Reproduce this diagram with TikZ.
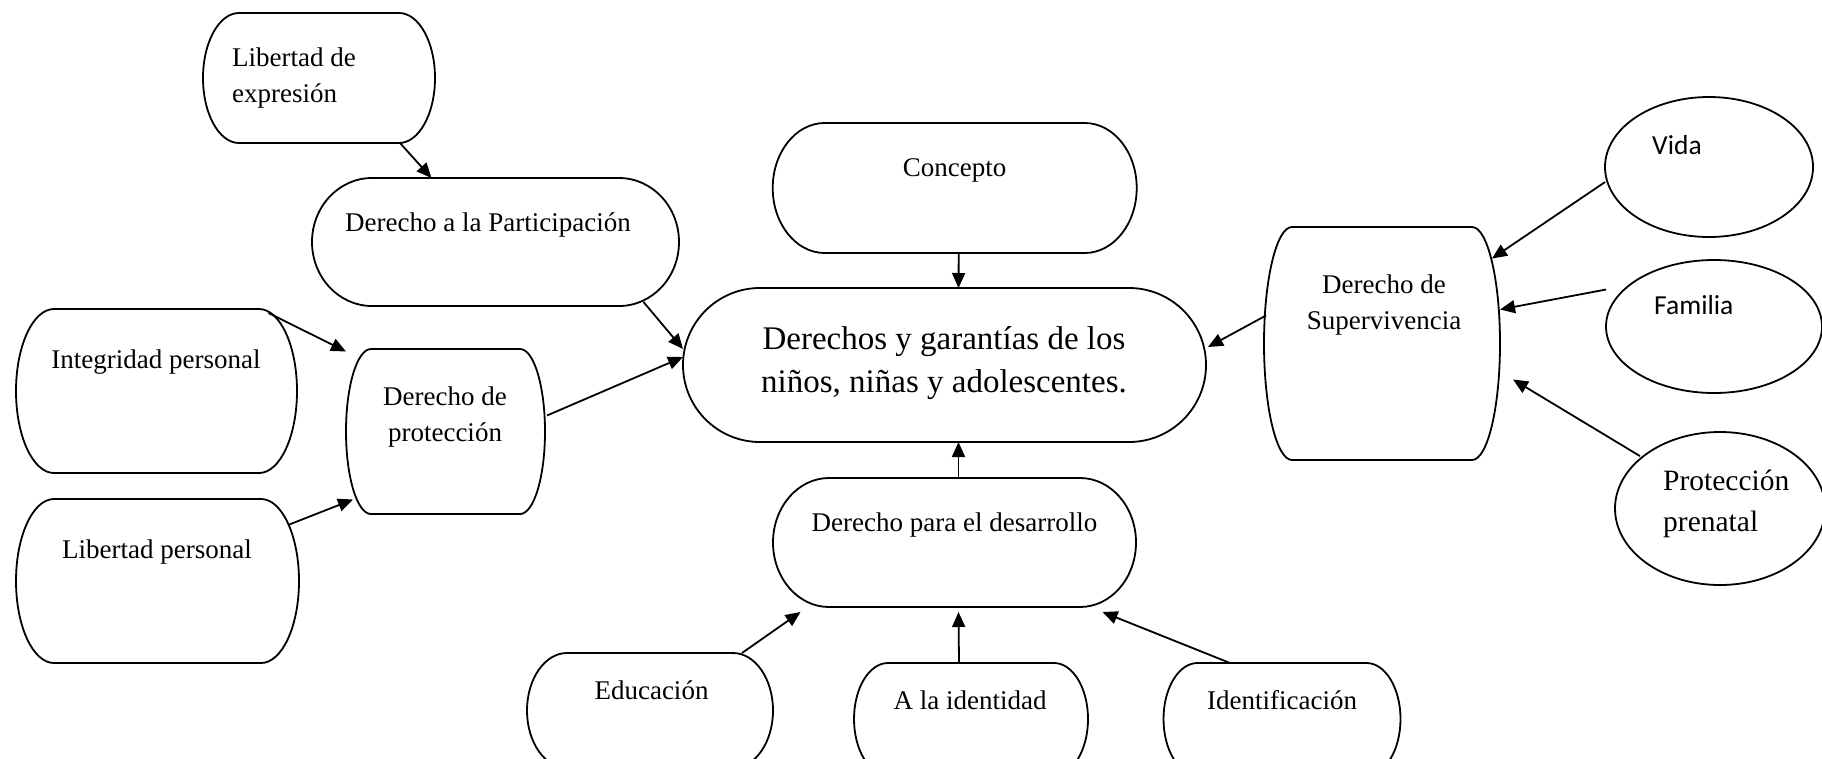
\documentclass[tikz,border=0pt]{standalone}
\usepackage{fontspec}
\setmainfont{Liberation Serif}
\newfontfamily\calibri{Carlito}
\usepackage{tikz}
\usetikzlibrary{positioning, arrows.meta, shapes.geometric}

\tikzset{
  caja/.style={inner sep=0pt, outer sep=0pt},
  borde/.style={line width=1.8pt},
  globo/.style={draw, line width=1.8pt, ellipse, inner sep=0pt},
  texto/.style={inner sep=0pt, align=center, font=\fontsize{27}{36}\selectfont},
  flecha/.style={-{Triangle[length=15pt,width=13pt]}, line width=1.8pt},
}

% caja con lados curvos: nombre, curva, media altura
\newcommand{\barril}[3]{%
  \draw[borde] ([xshift=#2pt]#1.north west) -- ([xshift=-#2pt]#1.north east)
    arc[start angle=90, end angle=-90, x radius=#2pt, y radius=#3pt]
    -- ([xshift=#2pt]#1.south west)
    arc[start angle=270, end angle=90, x radius=#2pt, y radius=#3pt] -- cycle;}

\begin{document}
\begin{tikzpicture}[x=1pt, y=-1pt]
\useasboundingbox (0,0) rectangle (1822,758);
\clip (0,0) rectangle (1822,758);

% cajas (pixel coordinates, y down)
\node[caja, minimum width=232, minimum height=130] (le) at (319,78) {};
\node[caja, minimum width=367, minimum height=128] (pa) at (495.5,242) {};
\node[caja, minimum width=281, minimum height=164] (ip) at (156.5,391) {};
\node[caja, minimum width=283, minimum height=164] (lp) at (157.5,581) {};
\node[caja, minimum width=199, minimum height=165] (dp) at (445.5,431.5) {};
\node[caja, minimum width=364, minimum height=130] (co) at (954.7,188) {};
\node[caja, minimum width=523, minimum height=154] (dg) at (944.5,365) {};
\node[caja, minimum width=363, minimum height=129] (dd) at (954.5,542.5) {};
\node[caja, minimum width=246, minimum height=115] (ed) at (650,710.5) {};
\node[caja, minimum width=234, minimum height=112] (ai) at (971,719) {};
\node[caja, minimum width=237, minimum height=112] (id) at (1282,719) {};
\node[caja, minimum width=236, minimum height=233] (su) at (1382,343.5) {};
\barril{le}{36}{65}
\barril{pa}{60}{64}
\barril{ip}{38}{82}
\barril{lp}{38}{82}
\barril{dp}{25}{82.5}
\barril{co}{52}{65}
\barril{dg}{77}{77}
\barril{dd}{56}{64.5}
\barril{ed}{40}{57.5}
\barril{ai}{34}{56}
\barril{id}{34}{56}
\barril{su}{28}{116.5}
\node[globo, minimum width=208, minimum height=140] (vi) at (1709,167) {};
\node[globo, minimum width=216, minimum height=133] (fa) at (1714,326.5) {};
\node[globo, minimum width=210, minimum height=153] (pp) at (1720,508.5) {};

% textos
\node[texto, anchor=west, align=left] (le-t) at (232,78) {Libertad de\\expresión};
\node[texto] (pa-t) at (488,225) {Derecho a la Participación};
\node[texto] (ip-t) at (156,362) {Integridad personal};
\node[texto] (lp-t) at (157,552) {Libertad personal};
\node[texto] (dp-t) at (445,417) {Derecho de\\protección};
\node[texto] (co-t) at (954.6,170) {Concepto};
\node[texto, font=\fontsize{33}{43}\selectfont] (dg-t) at (944,363) {Derechos y garantías de los\\niños, niñas y adolescentes.};
\node[texto] (dd-t) at (954.5,525) {Derecho para el desarrollo};
\node[texto] (ed-t) at (651.5,690) {Educación};
\node[texto] (ai-t) at (970,700) {A la identidad};
\node[texto] (id-t) at (1282,700) {Identificación};
\node[texto] (su-t) at (1384,305) {Derecho de\\Supervivencia};
\node[texto, anchor=west, font=\calibri\fontsize{27.5}{33}\selectfont] (vi-t) at (1652,145) {Vida};
\node[texto, anchor=west, font=\calibri\fontsize{27.5}{33}\selectfont] (fa-t) at (1654,305) {Familia};
\node[texto, anchor=west, align=left, font=\fontsize{29.5}{41}\selectfont] (pp-t) at (1663,504) {Protección\\prenatal};

% flechas
\draw[flecha] ([xshift=81pt]le.south) -- ([xshift=-64pt]pa.north);
\draw[flecha] ([xshift=148pt,yshift=4pt]pa.south) -- ([yshift=16pt]dg.west);
\draw[flecha] ([xshift=112pt,yshift=-4pt]ip.north) -- ([yshift=80pt]dp.west);
\draw[flecha] ([xshift=-11pt,yshift=56pt]lp.east) -- ([xshift=7pt,yshift=-68pt]dp.west);
\draw[flecha] ([xshift=2pt,yshift=16pt]dp.east) -- ([yshift=8pt]dg.west);
\draw[flecha] ([xshift=4pt]co.south) -- ([xshift=14pt]dg.north);
\draw[flecha] ([xshift=2pt,yshift=28pt]su.west) -- ([xshift=2pt,yshift=18pt]dg.east);
\draw[flecha] ([xshift=4pt]dd.north) -- ([xshift=14pt]dg.south);
\draw[flecha] ([xshift=92pt]ed.north) -- ([xshift=-154pt,yshift=-5pt]dd.south);
\draw[flecha] ([xshift=-12pt]ai.north) -- ([xshift=4pt,yshift=-5pt]dd.south);
\draw[flecha] ([xshift=-52pt]id.north) -- ([xshift=148pt,yshift=-5pt]dd.south);
\draw[flecha] ([xshift=1pt,yshift=-15pt]vi.west) -- ([xshift=-8pt,yshift=85pt]su.east);
\draw[flecha] ([xshift=1pt,yshift=37pt]fa.west) -- ([yshift=34pt]su.east);
\draw[flecha] ([xshift=-80pt,yshift=-25pt]pp.north) -- ([xshift=13pt,yshift=-36pt]su.east);
\end{tikzpicture}
\end{document}
